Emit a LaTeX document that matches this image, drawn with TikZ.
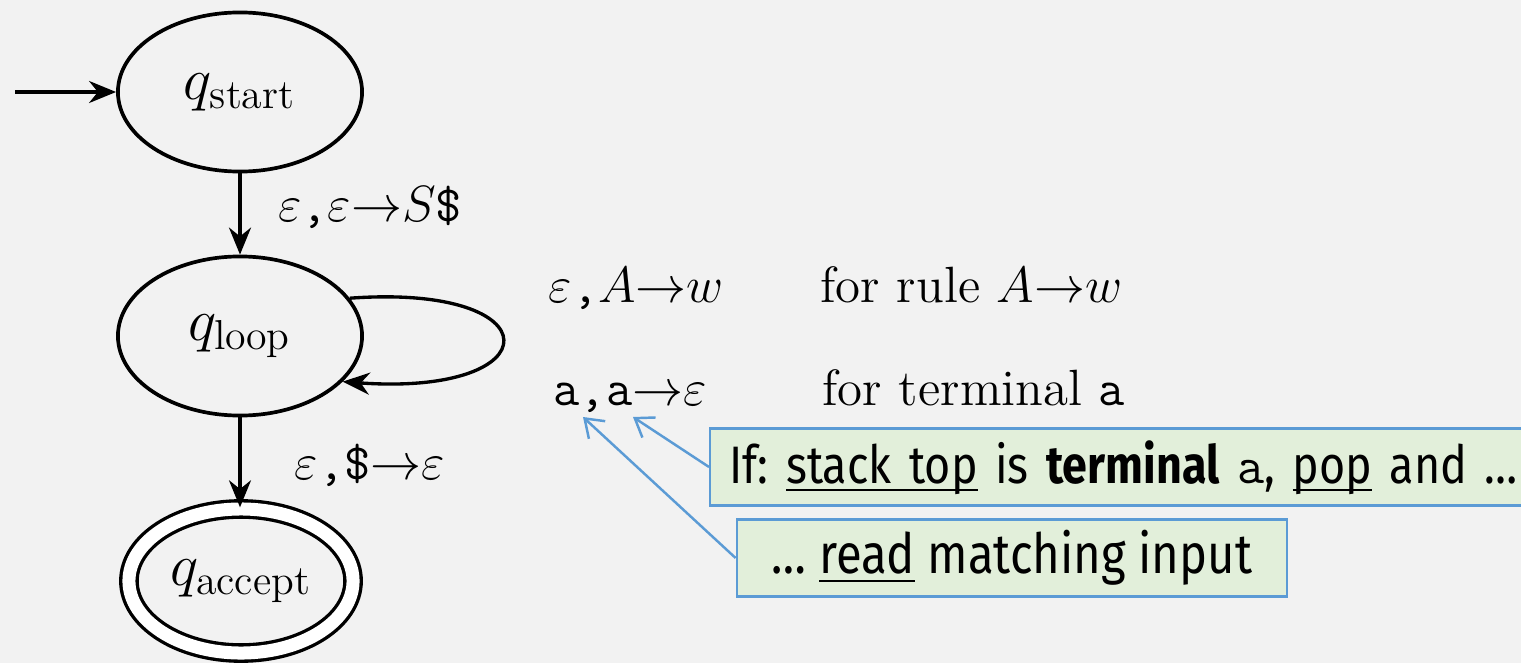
\RequirePackage{fix-cm}
\documentclass[tikz,border=0pt]{standalone}
\usepackage{amsmath}
\usepackage{fontspec}
\newfontfamily\notefont[FakeStretch=0.85]{Fira Sans}
\usetikzlibrary{arrows.meta,shapes.geometric}
\definecolor{bggray}{HTML}{F2F2F2}
\definecolor{notefill}{HTML}{E2EFDA}
\definecolor{noteline}{HTML}{5B9BD5}
\newcommand{\ulin}[1]{\underline{\smash{#1}}}

\begin{document}
\begin{tikzpicture}[x=0.01cm,y=0.01cm,
  state/.style={draw,ellipse,line width=1.05pt,inner sep=0pt,
    minimum width=2.44cm,minimum height=1.59cm,font=\fontsize{17}{20}\selectfont},
  accept/.style={state,double,double distance=0.13cm,line width=0.95pt,
    minimum width=2.24cm,minimum height=1.44cm},
  trans/.style={-{Stealth[length=0.27cm,width=0.22cm]},line width=0.95pt},
  elabel/.style={font=\fontsize{14.5}{17}\selectfont,inner sep=0pt},
  note/.style={draw=noteline,fill=notefill,line width=0.7pt,inner sep=0pt,
    minimum height=0.77cm,font=\notefont\frenchspacing\fontsize{15}{18}\selectfont},
  pointer/.style={-{Straight Barb[length=0.17cm,width=0.24cm]},draw=noteline,line width=0.7pt}]
\useasboundingbox (0,0) rectangle (1521,663);
\fill[bggray] (0,0) rectangle (1521,663);
\clip (0,0) rectangle (1521,663);
% the three states
\node[state] (start) at (240,571) {$q_{\mathrm{start}}$};
\node[state] (loop) at (240,327) {$q_{\mathrm{loop}}$};
\node[accept] (acc) at (241,82) {$q_{\mathrm{accept}}$};
\coordinate (init) at (15,571);
\draw[trans] (init) -- (start);
\draw[trans] (start) -- node[elabel,xshift=1.3cm,yshift=0.07cm]
  {$\varepsilon$\texttt{,}$\varepsilon{\to}S$\texttt{\$}} (loop);
\draw[trans] (loop) -- node[elabel,xshift=1.3cm,yshift=-0.03cm]
  {$\varepsilon$\texttt{,\$}${\to}\varepsilon$} (acc.north -| loop);
\draw[trans] (loop.19) .. controls +(205,15) and +(210,-15) .. (loop.-24);
% the two kinds of loop transitions
\node[elabel,anchor=base west] (rule) at (548,361) {$\varepsilon$\texttt{,}$A{\to}w$};
\node[elabel,anchor=base west] (rulenote) at (820,361) {for rule $A{\to}w$};
\node[elabel,anchor=base west] (term) at (553,258) {\texttt{a,a}${\to}\varepsilon$};
\node[elabel,anchor=base west] (termnote) at (822,258) {for terminal \texttt{a}};
\coordinate (a1) at (583,246);
\coordinate (a2) at (633,246);
% callouts
\node[note,anchor=west,text width=8.4cm,inner xsep=0.19cm,align=left] (popnote) at (709,196)
  {If: \ulin{stack top} is \textbf{terminal} \texttt{a}, \ulin{pop} and …};
\node[note,minimum width=5.5cm,font=\notefont\fontsize{15.8}{18}\selectfont] (readnote) at (1012,105)
  {… \ulin{read} matching input};
\draw[pointer] (popnote.west) -- (a2);
\draw[pointer] (readnote.west) -- (a1);
\end{tikzpicture}
\end{document}
